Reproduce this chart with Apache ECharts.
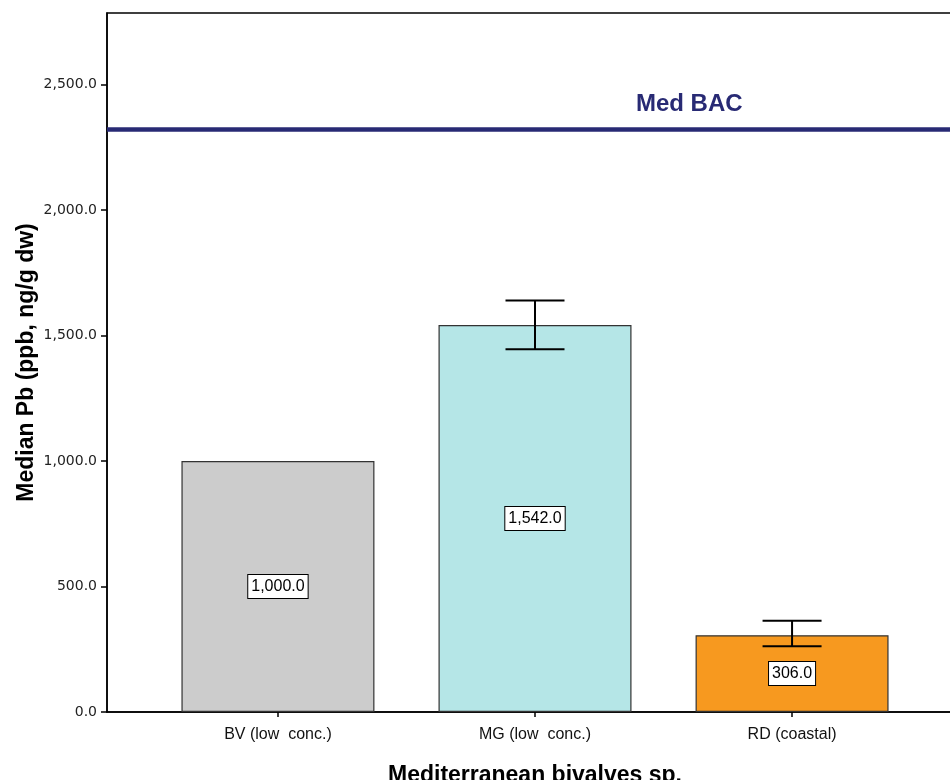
<!DOCTYPE html>
<html>
<head>
<meta charset="utf-8">
<script src="https://cdn.jsdelivr.net/npm/echarts@6/dist/echarts.min.js"></script>
<style>html,body{margin:0;padding:0;background:#fff}#c{width:950px;height:780px}</style>
</head>
<body>
<div id="c"></div>
<script>
const categories = ['BV (low  conc.)', 'MG (low  conc.)', 'RD (coastal)'];
const medians = [1000.0, 1542.0, 306.0];
const errLow = [null, 1445, 262];
const errHigh = [null, 1640, 364];
const barColors = ['#cccccc', '#b5e6e7', '#f7991f'];
const medBAC = 2320;
const yTicks = [0, 500, 1000, 1500, 2000, 2500];

const chart = echarts.init(document.getElementById('c'));
const fmt = v => v.toLocaleString('en-US', {minimumFractionDigits: 1, maximumFractionDigits: 1});

const barData = medians.map((v, i) => ({
  value: [i, v],
  itemStyle: {color: barColors[i]}
}));
const errData = categories.map((c, i) => [i, errLow[i], errHigh[i]]).filter(d => d[1] != null);

chart.setOption({
  animation: false,
  grid: {left: 107, top: 13, width: 856, height: 699, outerBoundsMode: 'none', containLabel: false, show: true, borderColor: '#000', borderWidth: 1.5, backgroundColor: 'transparent'},
  xAxis: {
    type: 'value', min: -0.665, max: 2.665,
    splitLine: {show: false},
    axisLine: {show: true, onZero: false, lineStyle: {color: '#000', width: 1.5}},
    axisTick: {show: true, customValues: [0, 1, 2], length: 5, lineStyle: {color: '#000', width: 1.5}},
    axisLabel: {customValues: [0, 1, 2], formatter: v => categories[Math.round(v)], fontFamily: 'Liberation Sans', fontSize: 16, color: '#111', margin: 15},
    name: 'Mediterranean bivalves sp.', nameLocation: 'middle', nameGap: 52, nameMoveOverlap: false,
    nameTextStyle: {fontFamily: 'Liberation Sans', fontWeight: 'bold', fontSize: 23, color: '#000'}
  },
  yAxis: {
    type: 'value', min: 0, max: 2785,
    splitLine: {show: false},
    axisLine: {show: true, onZero: false, lineStyle: {color: '#000', width: 1.5}},
    axisTick: {show: true, customValues: yTicks, length: 6, lineStyle: {color: '#000', width: 1.5}},
    axisLabel: {customValues: yTicks, formatter: v => fmt(v), fontFamily: 'DejaVu Sans', fontSize: 14, color: '#222', margin: 10},
    name: 'Median Pb (ppb, ng/g dw)', nameLocation: 'middle', nameGap: 69, nameMoveOverlap: false,
    nameTextStyle: {fontFamily: 'Liberation Sans', fontWeight: 'bold', fontSize: 23, color: '#000'}
  },
  series: [
    {
      type: 'bar', data: barData, barWidth: 193,
      itemStyle: {borderColor: '#333', borderWidth: 1.2},
      label: {
        show: true, position: 'inside', formatter: p => fmt(p.value[1]),
        fontFamily: 'Liberation Sans', fontSize: 16, color: '#000',
        backgroundColor: '#fff', borderColor: '#000', borderWidth: 1, padding: [4, 3, 3, 3]
      },
      markLine: {
        silent: true, symbol: 'none',
        lineStyle: {color: '#282a74', width: 4.5, type: 'solid'},
        label: {show: false},
        data: [{yAxis: medBAC}]
      },
      z: 2
    },
    {
      type: 'custom', data: errData, z: 5,
      renderItem: (params, api) => {
        const x = api.value(0);
        const lo = api.coord([x, api.value(1)]);
        const hi = api.coord([x, api.value(2)]);
        const hw = 29.5;
        const st = {stroke: '#000', lineWidth: 2};
        return {type: 'group', children: [
          {type: 'line', shape: {x1: lo[0], y1: lo[1], x2: hi[0], y2: hi[1]}, style: st},
          {type: 'line', shape: {x1: lo[0] - hw, y1: lo[1], x2: lo[0] + hw, y2: lo[1]}, style: st},
          {type: 'line', shape: {x1: hi[0] - hw, y1: hi[1], x2: hi[0] + hw, y2: hi[1]}, style: st}
        ]};
      }
    }
  ]
});

const pos = chart.convertToPixel({gridIndex: 0}, [1.6, medBAC]);
chart.setOption({
  graphic: [{
    type: 'text', x: pos[0], y: pos[1] - 13,
    style: {text: 'Med BAC', fontFamily: 'Liberation Sans', fontWeight: 'bold', fontSize: 24, fill: '#282a74', align: 'center', verticalAlign: 'bottom'}
  }]
});
</script>
</body>
</html>
